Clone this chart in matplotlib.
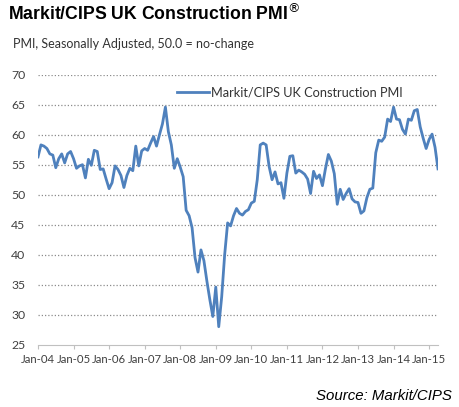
import numpy as np
import matplotlib
matplotlib.use("Agg")
import matplotlib.pyplot as plt

# monthly PMI readings, Jan-04 .. Apr-15
pmi_2004 = [56.3, 58.3, 58.1, 57.7, 56.8, 56.6, 54.5, 56.0, 56.8, 55.3, 56.8, 57.2]
pmi_2005 = [56.0, 54.4, 54.8, 55.0, 52.8, 55.9, 54.9, 57.4, 57.2, 54.2, 54.3, 52.6]
pmi_2006 = [51.0, 52.0, 54.8, 54.2, 53.2, 51.2, 53.2, 54.4, 54.0, 58.1, 54.8, 57.3]
pmi_2007 = [57.7, 57.4, 58.6, 59.7, 58.1, 60.0, 61.8, 64.6, 60.5, 58.3, 54.4, 56.0]
pmi_2008 = [54.6, 53.0, 47.4, 46.5, 44.5, 39.5, 37.1, 40.8, 39.0, 35.6, 32.5, 29.7]
pmi_2009 = [34.6, 28.0, 33.0, 40.0, 45.3, 44.8, 46.5, 47.7, 46.9, 46.6, 47.2, 47.5]
pmi_2010 = [48.6, 48.9, 52.5, 58.3, 58.6, 58.3, 54.7, 52.5, 53.8, 51.8, 52.0, 49.4]
pmi_2011 = [53.6, 56.4, 56.5, 53.6, 54.1, 53.8, 53.4, 52.6, 50.2, 53.9, 52.7, 53.3]
pmi_2012 = [51.5, 54.3, 56.7, 55.6, 53.5, 48.4, 50.9, 49.2, 50.2, 51.0, 49.3, 48.8]
pmi_2013 = [48.7, 46.9, 47.3, 49.5, 50.9, 51.1, 57.0, 59.1, 58.9, 59.6, 62.6, 62.2]
pmi_2014 = [64.6, 62.6, 62.5, 60.9, 60.1, 62.6, 62.4, 64.0, 64.2, 61.3, 59.4, 57.7]
pmi_2015 = [59.2, 60.1, 57.9, 54.3]

year_labels = ["Jan-04", "Jan-05", "Jan-06", "Jan-07", "Jan-08", "Jan-09",
               "Jan-10", "Jan-11", "Jan-12", "Jan-13", "Jan-14", "Jan-15"]

pmi = (pmi_2004 + pmi_2005 + pmi_2006 + pmi_2007 + pmi_2008 + pmi_2009
       + pmi_2010 + pmi_2011 + pmi_2012 + pmi_2013 + pmi_2014 + pmi_2015)
months = np.arange(len(pmi))

body_font = ["Lato", "DejaVu Sans"]

fig = plt.figure(figsize=(4.6, 4.07), dpi=100)
ax = fig.add_axes([38 / 460, 62.3 / 407, 400 / 460, 270 / 407])

ax.plot(months, pmi, color="#4F81BD", linewidth=2.0,
        label="Markit/CIPS UK Construction PMI", solid_joinstyle="round")

ax.set_xlim(0, len(pmi) - 1)
ax.set_ylim(25, 70)
ax.set_yticks(np.arange(25, 71, 5))
ax.set_xticks(np.arange(0, len(pmi), 12))
ax.set_xticklabels(year_labels)

for v in np.arange(30, 71, 5):
    ax.axhline(v, color="#8c8c8c", linewidth=0.9, linestyle=(0, (1, 1.6)), zorder=0)

for side in ["left", "right", "top"]:
    ax.spines[side].set_visible(False)
ax.spines["bottom"].set_color("#c0c0c0")
ax.spines["bottom"].set_linewidth(0.8)

ax.tick_params(axis="y", length=0, pad=9, labelsize=8.8, labelcolor="#404040")
ax.tick_params(axis="x", length=3, width=0.8, color="#c0c0c0", direction="out",
               pad=4, labelsize=8.2, labelcolor="#404040")
for lab in ax.get_xticklabels() + ax.get_yticklabels():
    lab.set_family(body_font)

leg = ax.legend(loc="upper left", bbox_to_anchor=(0.32, 1.0), frameon=False,
                handlelength=2.5, handletextpad=0.1,
                prop={"family": body_font, "size": 9.2})
for t in leg.get_texts():
    t.set_color("#333333")

fig.text(8 / 460, 1 - 14 / 407, "Markit/CIPS UK Construction PMI$^{\\circledR}$",
         fontsize=12.7, fontweight="bold", family="Liberation Sans", va="center")
fig.text(13 / 460, 1 - 44 / 407, "PMI, Seasonally Adjusted, 50.0 = no-change",
         fontsize=9.0, family=body_font, color="#333333", va="center")
fig.text(452 / 460, 1 - 396 / 407, "Source: Markit/CIPS", fontsize=10.8,
         style="italic", family="Liberation Sans", ha="right", va="center")

fig.savefig("out.png", dpi=100)
